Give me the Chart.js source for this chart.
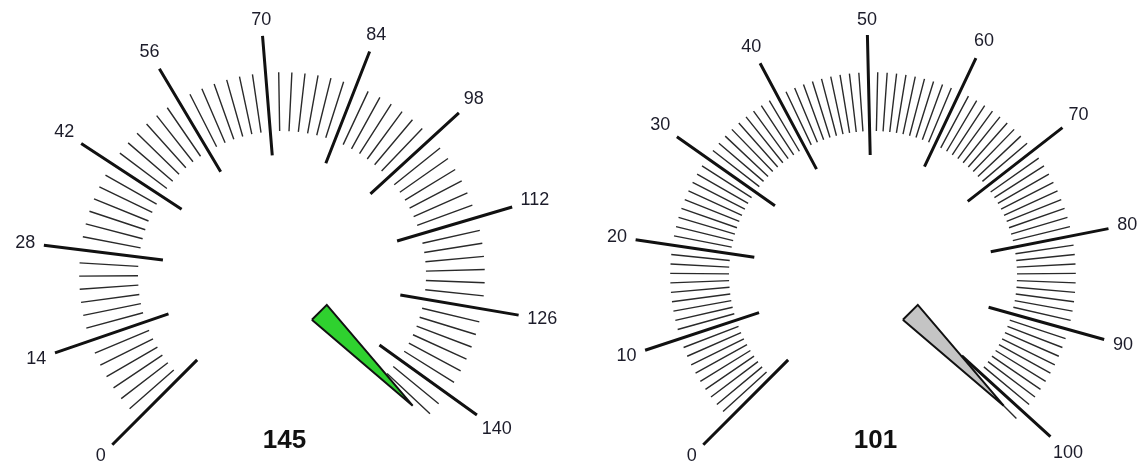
<!DOCTYPE html>
<html>
<head>
<meta charset="utf-8">
<title>Gauges</title>
<style>
  html, body { margin: 0; padding: 0; background: #ffffff; }
  .gauges { display: flex; width: 1146px; height: 468px; }
  .gauge-box { position: relative; width: 573px; height: 468px; }
</style>
</head>
<body>
<div class="gauges">
  <div class="gauge-box"><canvas id="gaugeLeft" width="573" height="468"></canvas></div>
  <div class="gauge-box"><canvas id="gaugeRight" width="573" height="468"></canvas></div>
</div>
<script src="https://cdn.jsdelivr.net/npm/chart.js@4.4.1/dist/chart.umd.min.js"></script>
<script>
// left gauge
const leftTickLabels = [0, 14, 28, 42, 56, 70, 84, 98, 112, 126, 140];
const leftMinorStep = 2;
const leftMax = 145;
const leftValue = 145;

// right gauge
const rightTickLabels = [0, 10, 20, 30, 40, 50, 60, 70, 80, 90, 100];
const rightMinorStep = 1;
const rightMax = 101;
const rightValue = 101;

const START_ANGLE = -135; // degrees, clockwise from top
const SWEEP = 270;
const PX_PER_UNIT = 240;  // outer end of a major tick = 1 unit

function polar(value, max, r) {
    const a = (START_ANGLE + value / max * SWEEP) * Math.PI / 180;
    return { x: r * Math.sin(a), y: r * Math.cos(a) };
}

// each tick is two points, then a gap so the line breaks
function tickSegments(values, max, r1, r2) {
    const pts = [];
    values.forEach(v => {
        pts.push(polar(v, max, r1), polar(v, max, r2), { x: NaN, y: NaN });
    });
    return pts;
}

function minorValues(max, step, majors) {
    const out = [];
    for (let v = 0; v <= max + 1e-9; v += step) {
        if (!majors.includes(v)) out.push(v);
    }
    return out;
}

function needleShape(value, max) {
    const a = (START_ANGLE + value / max * SWEEP) * Math.PI / 180;
    const tip = polar(value, max, 0.77);
    const base = polar(value, max, 0.22);
    const hw = 0.044;
    const px = Math.cos(a) * hw, py = -Math.sin(a) * hw;
    const b1 = { x: base.x + px, y: base.y + py };
    const b2 = { x: base.x - px, y: base.y - py };
    return [b1, tip, b2, b1];
}

const gaugeText = {
    id: 'gaugeText',
    afterDatasetsDraw(chart, args, opts) {
        const { ctx, scales: { x, y } } = chart;
        ctx.save();
        ctx.fillStyle = '#1c1c2a';
        ctx.textAlign = 'center';
        ctx.textBaseline = 'middle';
        ctx.font = '18px "Liberation Sans", Arial, sans-serif';
        opts.labels.forEach(v => {
            const a = (START_ANGLE + v / opts.max * SWEEP) * Math.PI / 180;
            const end = polar(v, opts.max, 1);
            const w = ctx.measureText(String(v)).width;
            // push the label out so its box sits just past the tick end
            const push = 8 + Math.abs(Math.sin(a)) * w / 2 + Math.abs(Math.cos(a)) * 7;
            const px = x.getPixelForValue(end.x) + Math.sin(a) * push;
            const py = y.getPixelForValue(end.y) - Math.cos(a) * push;
            ctx.fillText(String(v), px, py);
        });
        ctx.font = 'bold 26px "Liberation Sans", Arial, sans-serif';
        ctx.fillStyle = '#111111';
        ctx.fillText(String(opts.value), x.getPixelForValue(0.01), y.getPixelForValue(-0.69));
        ctx.restore();
    }
};

function makeGauge(canvasId, labels, minorStep, max, value, needleColor, centerX) {
    const ctx = document.getElementById(canvasId).getContext('2d');
    const centerY = 275;
    new Chart(ctx, {
        type: 'scatter',
        data: {
            datasets: [
                {
                    data: needleShape(value, max),
                    showLine: true,
                    fill: 'shape',
                    backgroundColor: needleColor,
                    borderColor: '#111111',
                    borderWidth: 2,
                    borderJoinStyle: 'miter',
                    pointRadius: 0
                },
                {
                    data: tickSegments(labels, max, 0.5, 1.0),
                    showLine: true,
                    borderColor: '#111111',
                    borderWidth: 3,
                    pointRadius: 0
                },
                {
                    data: tickSegments(minorValues(max, minorStep, labels), max, 0.6, 0.845),
                    showLine: true,
                    borderColor: '#2a2a2a',
                    borderWidth: 1.4,
                    pointRadius: 0
                }
            ]
        },
        options: {
            responsive: false,
            animation: false,
            events: [],
            layout: { padding: 0 },
            scales: {
                x: { type: 'linear', display: false, min: -centerX / PX_PER_UNIT, max: (573 - centerX) / PX_PER_UNIT },
                y: { type: 'linear', display: false, min: -(468 - centerY) / PX_PER_UNIT, max: centerY / PX_PER_UNIT }
            },
            plugins: {
                legend: { display: false },
                tooltip: { enabled: false },
                gaugeText: { labels: labels, max: max, value: value }
            }
        },
        plugins: [gaugeText]
    });
}

makeGauge('gaugeLeft', leftTickLabels, leftMinorStep, leftMax, leftValue, '#2fd12f', 282);
makeGauge('gaugeRight', rightTickLabels, rightMinorStep, rightMax, rightValue, '#c4c4c4', 300);
</script>
</body>
</html>
